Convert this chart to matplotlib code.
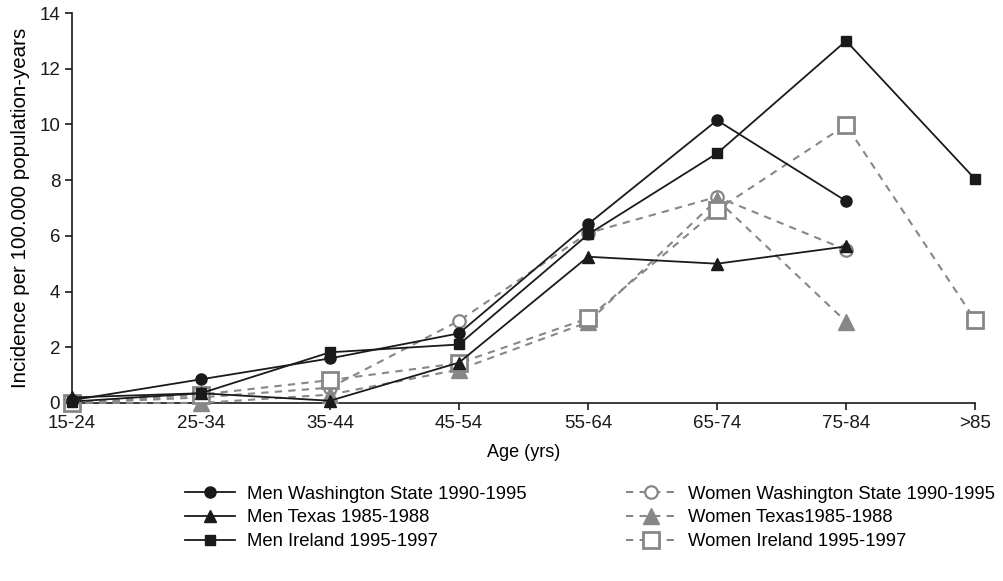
import numpy as np
import matplotlib.pyplot as plt

plt.rcParams['font.family'] = ['Liberation Sans', 'DejaVu Sans']

ages = ['15-24', '25-34', '35-44', '45-54', '55-64', '65-74', '75-84', '>85']

men_wash = [0.1, 0.85, 1.6, 2.5, 6.42, 10.15, 7.25]
men_texas = [0.2, 0.35, 0.08, 1.45, 5.25, 5.0, 5.62]
men_ireland = [0.05, 0.35, 1.82, 2.1, 6.05, 8.96, 13.0, 8.04]
women_wash = [0.0, 0.2, 0.55, 2.95, 6.1, 7.4, 5.5]
women_texas = [0.0, 0.0, 0.3, 1.2, 2.9, 7.3, 2.92]
women_ireland = [0.0, 0.3, 0.82, 1.43, 3.04, 6.93, 9.98, 2.98]

black = '#1a1a1a'
grey = '#878787'

fig = plt.figure(figsize=(10.04, 5.81), dpi=100)
ax = fig.add_axes([0.0717, 0.3064, 0.8995, 0.6712])

x = np.arange(len(ages))
dash = (0, (3.5, 3))

# women first so the black series sit on top
ax.plot(x[:len(women_wash)], women_wash, color=grey, lw=1.5, ls=dash,
        marker='o', ms=9, mfc='white', mec=grey, mew=1.6, clip_on=False,
        label='Women Washington State 1990-1995', zorder=3)
ax.plot(x[:len(women_texas)], women_texas, color=grey, lw=1.5, ls=dash,
        marker='^', ms=12, mfc=grey, mec=grey, clip_on=False,
        label='Women Texas1985-1988', zorder=3)
ax.plot(x[:len(women_ireland)], women_ireland, color=grey, lw=1.5, ls=dash,
        marker='s', ms=12, mfc='white', mec=grey, mew=2, clip_on=False,
        label='Women Ireland 1995-1997', zorder=3)

ax.plot(x[:len(men_wash)], men_wash, color=black, lw=1.3, marker='o', ms=8,
        clip_on=False, label='Men Washington State 1990-1995', zorder=4)
ax.plot(x[:len(men_texas)], men_texas, color=black, lw=1.3, marker='^', ms=8,
        clip_on=False, label='Men Texas 1985-1988', zorder=4)
ax.plot(x[:len(men_ireland)], men_ireland, color=black, lw=1.3, marker='s', ms=7.5,
        clip_on=False, label='Men Ireland 1995-1997', zorder=4)

ax.set_xlim(0, len(ages) - 1)
ax.set_ylim(0, 14)
ax.set_xticks(x)
ax.set_xticklabels(ages)
ax.set_yticks(np.arange(0, 15, 2))
ax.spines['top'].set_visible(False)
ax.spines['right'].set_visible(False)
for s in ['left', 'bottom']:
    ax.spines[s].set_color(black)
    ax.spines[s].set_linewidth(1.2)
ax.tick_params(colors=black, labelsize=13.5, length=5, width=1.2)
ax.set_xlabel('Age (yrs)', fontsize=13, labelpad=9)
ax.set_ylabel('Incidence per 100.000 population-years', fontsize=14.8, labelpad=7)

h, l = ax.get_legend_handles_labels()
order = [3, 4, 5, 0, 1, 2]
fig.legend([h[i] for i in order], [l[i] for i in order], ncol=2, frameon=False,
           loc='upper left', bbox_to_anchor=(0.175, 0.18), fontsize=13.3,
           handlelength=2.7, handletextpad=0.65, columnspacing=5.4,
           labelspacing=0.37, borderpad=0)

fig.savefig('out.png', dpi=100)
